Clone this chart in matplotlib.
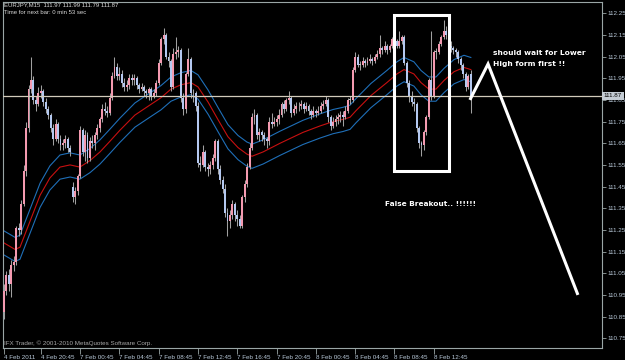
import matplotlib
matplotlib.use("Agg")
import matplotlib.pyplot as plt
from matplotlib.patches import Rectangle
import numpy as np

# ---------------- data (EURJPY M15) ----------------
opens = [110.87, 110.97, 111.04, 111.00, 111.09, 111.10, 111.26, 111.25, 111.37, 111.52,
         111.72, 111.90, 111.94, 111.85, 111.83, 111.88, 111.89, 111.84, 111.81, 111.78,
         111.72, 111.67, 111.74, 111.67, 111.64, 111.65, 111.67, 111.63, 111.45, 111.40,
         111.43, 111.50, 111.71, 111.61, 111.69, 111.58, 111.66, 111.65, 111.69, 111.72,
         111.76, 111.81, 111.80, 111.79, 111.86, 111.96, 112.00, 111.96, 111.97, 111.93,
         111.91, 111.92, 111.95, 111.94, 111.95, 111.92, 111.90, 111.91, 111.89, 111.88,
         111.90, 111.87, 111.88, 111.93, 112.02, 112.13, 112.15, 112.05, 112.03, 111.91,
         112.06, 112.07, 112.08, 111.86, 111.81, 111.97, 112.04, 111.88, 111.88, 111.82,
         111.56, 111.55, 111.61, 111.54, 111.53, 111.55, 111.58, 111.66, 111.53, 111.48,
         111.44, 111.33, 111.29, 111.32, 111.37, 111.32, 111.30, 111.27, 111.40, 111.46,
         111.54, 111.63, 111.77, 111.78, 111.69, 111.70, 111.69, 111.67, 111.66, 111.75,
         111.74, 111.75, 111.76, 111.78, 111.83, 111.81, 111.85, 111.86, 111.79, 111.81,
         111.82, 111.82, 111.83, 111.81, 111.82, 111.80, 111.78, 111.80, 111.79, 111.80,
         111.82, 111.83, 111.85, 111.77, 111.73, 111.75, 111.76, 111.77, 111.78, 111.77,
         111.80, 111.85, 111.85, 111.99, 112.05, 112.01, 112.01, 112.03, 112.02, 112.03,
         112.04, 112.03, 112.05, 112.06, 112.09, 112.08, 112.10, 112.08, 112.10, 112.13,
         112.12, 112.10, 112.12, 112.14, 112.02, 111.93, 111.87, 111.84, 111.83, 111.72,
         111.65, 111.64, 111.70, 111.77, 111.94, 111.87, 112.07, 112.07, 112.11, 112.14,
         112.17, 112.15, 112.10, 112.09, 112.08, 112.07, 112.04, 112.01, 111.97, 111.91,
         111.97]

highs = [111.00, 111.06, 111.07, 111.11, 111.13, 111.27, 111.28, 111.39, 111.55, 111.75,
         111.92, 112.05, 111.96, 111.87, 111.91, 111.92, 111.90, 111.86, 111.82, 111.79,
         111.74, 111.76, 111.75, 111.69, 111.67, 111.69, 111.68, 111.64, 111.47, 111.45,
         111.51, 111.73, 111.72, 111.71, 111.70, 111.68, 111.69, 111.70, 111.74, 111.77,
         111.83, 111.84, 111.82, 111.88, 111.98, 112.05, 112.02, 112.00, 111.99, 111.95,
         111.94, 111.97, 111.97, 111.97, 111.96, 111.93, 111.93, 111.92, 111.90, 111.91,
         111.91, 111.90, 111.94, 112.04, 112.14, 112.18, 112.16, 112.07, 112.04, 112.09,
         112.14, 112.10, 112.09, 111.88, 111.98, 112.09, 112.05, 111.90, 111.89, 111.84,
         111.59, 111.64, 111.62, 111.56, 111.57, 111.60, 111.67, 111.67, 111.55, 111.50,
         111.46, 111.35, 111.34, 111.39, 111.38, 111.34, 111.32, 111.41, 111.48, 111.56,
         111.65, 111.79, 111.81, 111.79, 111.72, 111.71, 111.70, 111.68, 111.77, 111.79,
         111.77, 111.78, 111.81, 111.84, 111.85, 111.86, 111.89, 111.87, 111.83, 111.84,
         111.84, 111.85, 111.84, 111.84, 111.83, 111.81, 111.82, 111.81, 111.82, 111.84,
         111.85, 111.87, 111.86, 111.78, 111.77, 111.78, 111.79, 111.80, 111.80, 111.82,
         111.86, 111.87, 112.00, 112.07, 112.06, 112.03, 112.05, 112.04, 112.05, 112.06,
         112.05, 112.06, 112.08, 112.15, 112.10, 112.12, 112.11, 112.11, 112.14, 112.16,
         112.13, 112.17, 112.15, 112.15, 112.03, 111.94, 111.89, 111.86, 111.84, 111.73,
         111.66, 111.71, 111.78, 111.95, 112.17, 112.08, 112.09, 112.12, 112.15, 112.22,
         112.19, 112.16, 112.12, 112.10, 112.09, 112.08, 112.05, 112.02, 111.98, 111.97,
         111.99]

lows = [110.84, 110.95, 110.97, 110.94, 111.06, 111.09, 111.22, 111.23, 111.36, 111.50,
        111.70, 111.88, 111.83, 111.80, 111.82, 111.86, 111.82, 111.79, 111.76, 111.70,
        111.64, 111.66, 111.65, 111.62, 111.62, 111.63, 111.61, 111.59, 111.38, 111.37,
        111.41, 111.49, 111.59, 111.57, 111.56, 111.57, 111.63, 111.62, 111.67, 111.70,
        111.75, 111.78, 111.77, 111.78, 111.85, 111.95, 111.94, 111.94, 111.91, 111.89,
        111.89, 111.90, 111.92, 111.92, 111.90, 111.88, 111.89, 111.87, 111.86, 111.85,
        111.85, 111.86, 111.87, 111.92, 112.01, 112.11, 112.04, 112.00, 111.89, 111.90,
        112.04, 112.05, 111.84, 111.78, 111.79, 111.96, 111.86, 111.84, 111.80, 111.54,
        111.52, 111.54, 111.52, 111.50, 111.51, 111.53, 111.57, 111.51, 111.46, 111.42,
        111.31, 111.22, 111.26, 111.30, 111.29, 111.27, 111.26, 111.26, 111.38, 111.45,
        111.53, 111.62, 111.74, 111.67, 111.66, 111.66, 111.64, 111.63, 111.64, 111.72,
        111.73, 111.73, 111.74, 111.77, 111.79, 111.80, 111.83, 111.77, 111.78, 111.79,
        111.80, 111.81, 111.79, 111.80, 111.78, 111.76, 111.77, 111.77, 111.78, 111.79,
        111.81, 111.82, 111.75, 111.71, 111.72, 111.73, 111.74, 111.75, 111.73, 111.76,
        111.79, 111.83, 111.84, 111.98, 112.00, 111.99, 112.00, 112.00, 112.01, 112.02,
        112.01, 112.02, 112.04, 112.05, 112.06, 112.07, 112.06, 112.07, 112.09, 112.11,
        112.09, 112.09, 112.11, 112.01, 111.91, 111.84, 111.82, 111.80, 111.70, 111.63,
        111.59, 111.62, 111.69, 111.76, 111.85, 111.86, 112.04, 112.06, 112.10, 112.13,
        112.13, 112.08, 112.07, 112.06, 112.05, 112.02, 111.99, 111.95, 111.89, 111.90,
        111.79]

closes = [110.97, 111.04, 111.00, 111.09, 111.10, 111.26, 111.25, 111.37, 111.52, 111.72,
          111.90, 111.94, 111.85, 111.83, 111.88, 111.89, 111.84, 111.81, 111.78, 111.72,
          111.67, 111.74, 111.67, 111.64, 111.65, 111.67, 111.63, 111.61, 111.40, 111.43,
          111.50, 111.71, 111.61, 111.69, 111.58, 111.66, 111.65, 111.69, 111.72, 111.76,
          111.81, 111.80, 111.79, 111.86, 111.96, 112.00, 111.96, 111.97, 111.93, 111.91,
          111.92, 111.95, 111.94, 111.95, 111.92, 111.90, 111.91, 111.89, 111.88, 111.90,
          111.87, 111.88, 111.93, 112.02, 112.13, 112.15, 112.05, 112.03, 111.91, 112.06,
          112.07, 112.08, 111.86, 111.81, 111.97, 112.04, 111.88, 111.88, 111.82, 111.56,
          111.55, 111.61, 111.54, 111.53, 111.55, 111.58, 111.66, 111.53, 111.48, 111.44,
          111.33, 111.29, 111.32, 111.37, 111.32, 111.30, 111.27, 111.40, 111.46, 111.54,
          111.63, 111.77, 111.78, 111.69, 111.70, 111.69, 111.67, 111.66, 111.75, 111.74,
          111.75, 111.76, 111.78, 111.83, 111.81, 111.85, 111.86, 111.79, 111.81, 111.82,
          111.82, 111.83, 111.81, 111.82, 111.80, 111.78, 111.80, 111.79, 111.80, 111.82,
          111.83, 111.85, 111.77, 111.73, 111.75, 111.76, 111.77, 111.78, 111.77, 111.80,
          111.85, 111.85, 111.99, 112.05, 112.01, 112.01, 112.03, 112.02, 112.03, 112.04,
          112.03, 112.05, 112.06, 112.09, 112.08, 112.10, 112.08, 112.10, 112.13, 112.12,
          112.10, 112.12, 112.14, 112.02, 111.93, 111.87, 111.84, 111.83, 111.72, 111.65,
          111.64, 111.70, 111.77, 111.94, 111.87, 112.07, 112.07, 112.11, 112.14, 112.17,
          112.15, 112.10, 112.09, 112.08, 112.07, 112.04, 112.01, 111.97, 111.91, 111.96,
          111.87]

# moving average (middle line): bar position, price
ma_bar = [0, 4.5, 6.5, 10.6, 14.7, 18.7, 22.8, 26.9, 30.9, 35, 39.1, 43.2, 47.2, 53.3,
          59.9, 63.9, 68, 72.1, 76.1, 79, 83.1, 87.1, 91.2, 95.3, 98.9, 101, 105.5, 112.4,
          121.7, 128.7, 134, 138, 140.9, 143.3, 149.4, 155.9, 160, 162.9, 166.9, 169.8,
          173, 175.9, 179.2, 183.2, 187.3, 190.1]
ma_mid = [111.19, 111.16, 111.17, 111.29, 111.41, 111.49, 111.54, 111.55, 111.54, 111.57,
          111.61, 111.66, 111.71, 111.78, 111.83, 111.86, 111.90, 111.92, 111.93, 111.91,
          111.84, 111.76, 111.68, 111.63, 111.60, 111.59, 111.61, 111.65, 111.70, 111.73,
          111.75, 111.76, 111.77, 111.80, 111.87, 111.93, 111.97, 111.99, 111.97, 111.93,
          111.90, 111.90, 111.94, 111.98, 112.00, 111.99]
envelope_pct = 0.05

price_ticks = [110.75, 110.85, 110.95, 111.05, 111.15, 111.25, 111.35, 111.45, 111.55,
               111.65, 111.75, 111.85, 111.95, 112.05, 112.15, 112.25]
time_tick_bars = [0, 15, 31, 47, 63, 79, 95, 111, 127, 143, 159, 175]
time_tick_labels = ["4 Feb 2011", "4 Feb 20:45", "7 Feb 00:45", "7 Feb 04:45",
                    "7 Feb 08:45", "7 Feb 12:45", "7 Feb 16:45", "7 Feb 20:45",
                    "8 Feb 00:45", "8 Feb 04:45", "8 Feb 08:45", "8 Feb 12:45"]
bid_price = 111.87

# ---------------- drawing ----------------
SMALL = "Liberation Sans"
W, H = 625, 360
fig = plt.figure(figsize=(W / 100, H / 100), dpi=100)
fig.patch.set_facecolor("#000000")
ax = fig.add_axes([3 / W, 12 / H, 599 / W, 346 / H])
ax.set_facecolor("#000000")
ax.set_xlim(-0.4, 243.5)
ax.set_ylim(110.705, 112.302)

o = np.array(opens); h = np.array(highs); l = np.array(lows); c = np.array(closes)
x = np.arange(len(c))

# moving average envelope
mid = np.array(ma_mid)
ax.plot(ma_bar, mid * (1 + envelope_pct / 100), color="#1f6fb8", lw=0.8, zorder=2)
ax.plot(ma_bar, mid, color="#c81010", lw=0.8, zorder=2)
ax.plot(ma_bar, mid * (1 - envelope_pct / 100), color="#1f6fb8", lw=0.8, zorder=2)

# candles
ax.vlines(x, l, h, color="#a0a0a0", lw=0.75, zorder=3)
bottoms = np.minimum(o, c)
heights = np.maximum(np.abs(c - o), 0.004)
cols = np.where(c > o, "#f49ab0", np.where(c < o, "#b4c8f0", "#c0c0c0"))
ax.bar(x, heights, bottom=bottoms, width=0.78, color=cols, linewidth=0, zorder=4)

# bid line
ax.axhline(bid_price, color="#d2cbbb", lw=0.9, zorder=5)

# frame
for s in ax.spines.values():
    s.set_color("#9aa6a6")
    s.set_linewidth(0.8)

# axes ticks
ax.yaxis.tick_right()
ax.set_yticks(price_ticks)
ax.set_yticklabels([f"{p:.2f}" for p in price_ticks], fontfamily=SMALL)
ax.tick_params(axis="y", colors="#9aa6a6", labelcolor="#b8c8d8", labelsize=4.5,
               length=3, width=0.6, pad=1)
ax.set_xticks(time_tick_bars)
ax.set_xticklabels(time_tick_labels, fontfamily=SMALL)
ax.tick_params(axis="x", colors="#9aa6a6", labelcolor="#b8c8d8", labelsize=4.5,
               length=4, width=0.6, pad=1)
for lbl in ax.get_xticklabels():
    lbl.set_ha("left")

ax.text(1.003, bid_price, f"{bid_price:.2f}", transform=ax.get_yaxis_transform(),
        fontsize=4.5, family=SMALL, color="#000000", va="center", ha="left",
        clip_on=False, zorder=10,
        bbox=dict(boxstyle="square,pad=0.25", fc="#c4ccd4", ec="none"))

# annotations
ax.add_patch(Rectangle((159.0, 111.52), 22.0, 0.724, fill=False, ec="white", lw=2.2, zorder=6))
ax.plot([189.7, 197.1, 233.7], [111.85, 112.016, 110.95], color="white", lw=2.2,
        solid_capstyle="butt", solid_joinstyle="miter", zorder=6)
ax.text(199.1, 112.066, "should wait for Lower", color="white", fontsize=5.4,
        fontweight="bold", va="center", ha="left", zorder=7)
ax.text(199.1, 112.016, "High form first !!", color="white", fontsize=5.4,
        fontweight="bold", va="center", ha="left", zorder=7)
ax.text(155.1, 111.37, "False Breakout.. !!!!!!", color="white", fontsize=5.3,
        fontweight="bold", va="center", ha="left", zorder=7)

# header / footer texts
fig.text(4 / W, 1 - 5 / H, "EURJPY,M15  111.97 111.99 111.79 111.87", fontsize=4.3,
         family=SMALL, color="#d8d8d8", va="center", ha="left")
fig.text(4 / W, 1 - 12 / H, "Time for next bar: 0 min 53 sec", fontsize=4.3,
         family=SMALL, color="#d8d8d8", va="center", ha="left")
fig.text(4 / W, 1 - 343 / H, "IFX Trader, \u00a9 2001-2010 MetaQuotes Software Corp.",
         fontsize=4.5, family=SMALL, color="#a8a8a8", va="center", ha="left")

fig.savefig("out.png", dpi=100, facecolor=fig.get_facecolor())
